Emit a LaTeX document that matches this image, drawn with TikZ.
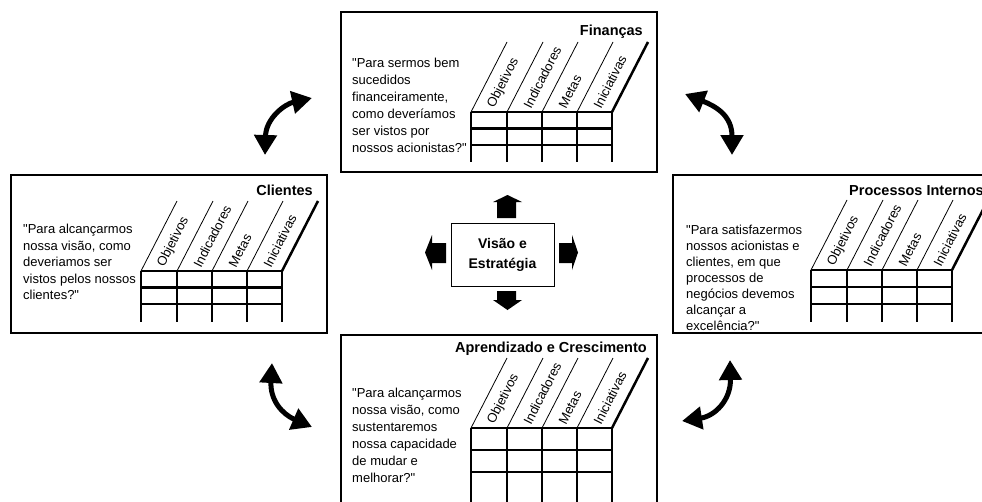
\documentclass[tikz,border=0pt]{standalone}
\usepackage{fontspec}
\setmainfont{Liberation Sans}[Ligatures=TeXOff]
\usetikzlibrary{arrows.meta,fit}
\tikzset{
  panel/.style={draw, line width=2.5pt, inner sep=0pt},
  grid/.style={line width=2.5pt},
  slantline/.style={line width=0.8pt},
  collab/.style={font=\fontsize{13}{15}\selectfont, rotate=63, anchor=west, inner sep=0pt},
  question/.style={font=\fontsize{13}{#1}\selectfont, align=left, anchor=north west, inner sep=0pt},
  paneltitle/.style={font=\fontsize{14.5}{17}\selectfont\bfseries, inner sep=0pt},
  blockarrow/.style={fill=black},
  bendarrow/.style={line width=5pt, {Triangle[length=20pt,width=22pt]}-{Triangle[length=20pt,width=22pt]}},
  pics/bsctab/.style n args={2}{code={
    \foreach \r in {0,1,2} \draw[grid] (0,\r*#1) -- (141,\r*#1);
    \foreach \x in {0,36,71,106,141} \draw[grid] (\x,0) -- (\x,#2);
    \foreach \x in {0,36,71,106} \draw[slantline] (\x,0) -- ++(36,-70);
    \draw[grid] (141,0) -- ++(36,-70);
    \foreach \x/\t [count=\i] in {0/Objetivos,36/Indicadores,71/Metas,106/Iniciativas}
      \node[collab] (-l\i) at (\x+20,-4.5) {\t};
  }}
}
\begin{document}
\begin{tikzpicture}[x=1pt,y=-1pt]
\useasboundingbox (0,0) rectangle (982,501);
\clip (0,0) rectangle (982,501);

% panels
\node[panel, fit={(341,12) (657,172)}] (fin) {};
\node[panel, fit={(11,175) (327,333)}] (cli) {};
\node[panel, fit={(673,175) (1010,333)}] (proc) {};
\node[panel, fit={(341,335) (657,530)}] (apr) {};

% titles
\node[paneltitle, anchor=base east] (tfin) at (643,35) {Finanças};
\node[paneltitle, anchor=base east] (tcli) at (313,195) {Clientes};
\node[paneltitle, anchor=base west] (tproc) at (849,195) {Processos Internos};
\node[paneltitle, anchor=base east] (tapr) at (647,352) {Aprendizado e Crescimento};

% questions
\node[question=16.9] (qfin) at (352,58) {"Para sermos bem\\sucedidos\\financeiramente,\\como deveríamos\\ser vistos por\\nossos acionistas?"};
\node[question=16.5] (qcli) at (23,224) {"Para alcançarmos\\nossa visão, como\\deveriamos ser\\vistos pelos nossos\\clientes?"};
\node[question=15.9] (qproc) at (686,225) {"Para satisfazermos\\nossos acionistas e\\clientes, em que\\processos de\\negócios devemos\\alcançar a\\excelência?"};
\node[question=16.9] (qapr) at (352,388) {"Para alcançarmos\\nossa visão, como\\sustentaremos\\nossa capacidade\\de mudar e\\melhorar?"};

% tables
\pic (tabfin) at (471,112) {bsctab={16.5}{50}};
\pic (tabcli) at (141,271) {bsctab={16.5}{51}};
\pic (tabproc) at (811,270) {bsctab={17}{52}};
\pic (tabapr) at (471,428) {bsctab={22}{80}};

% centre
\node[draw, line width=1pt, minimum width=103pt, minimum height=63pt, align=center,
      font=\fontsize{14}{20}\selectfont\bfseries] (vis) at (502.5,254.5) {Visão e\\Estratégia};

% block arrows
\fill[blockarrow] (497,218) -- (497,202) -- (493,202) -- (507.5,195) -- (522,202) -- (516,202) -- (516,218) -- cycle;
\fill[blockarrow] (497,291) -- (497,300) -- (493,300) -- (507.5,310) -- (522,300) -- (516,300) -- (516,291) -- cycle;
\fill[blockarrow] (446,243) -- (432,243) -- (432,235) -- (425,252.5) -- (432,270) -- (432,263) -- (446,263) -- cycle;
\fill[blockarrow] (559,243) -- (572,243) -- (572,235) -- (578,252.5) -- (572,270) -- (572,263) -- (559,263) -- cycle;

% curved arrows
\coordinate (a1s) at (312,98);  \coordinate (a1e) at (265,155);
\coordinate (a2s) at (685,94);  \coordinate (a2e) at (732,155);
\coordinate (a3s) at (272,363); \coordinate (a3e) at (312,427);
\coordinate (a4s) at (730,360); \coordinate (a4e) at (682,421);
\draw[bendarrow] (a1s) .. controls (285,104) and (266,118) .. (a1e);
\draw[bendarrow] (a2s) .. controls (715,106) and (732,115) .. (a2e);
\draw[bendarrow] (a3s) .. controls (270,400) and (282,414) .. (a3e);
\draw[bendarrow] (a4s) .. controls (731,400) and (715,416) .. (a4e);
\end{tikzpicture}
\end{document}
